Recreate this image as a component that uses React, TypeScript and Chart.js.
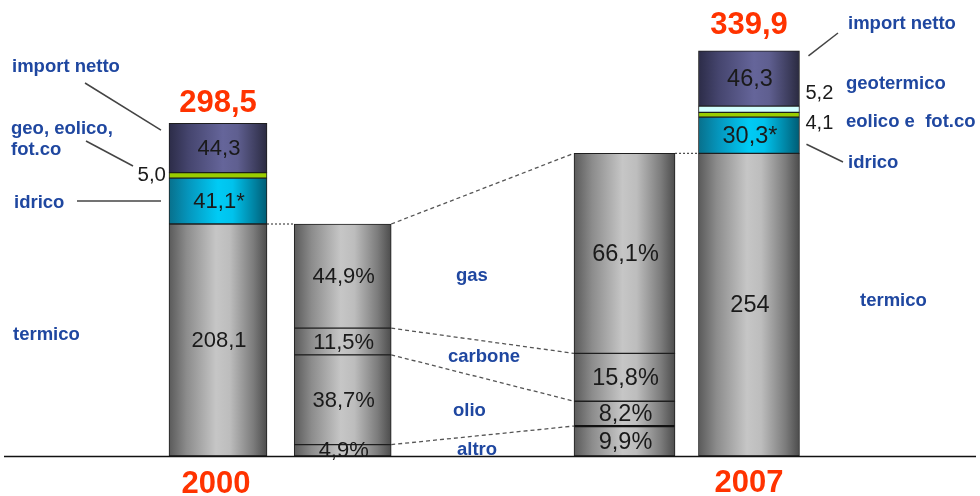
import React, { useEffect, useRef } from 'react';
import { Chart, registerables } from 'chart.js';

Chart.register(...registerables);

// ---------------- data ----------------
const YEARS = ['2000', '2007'];
const TERMICO = [208.1, 254];
const IDRICO = [41.1, 30.3];
const EOLICO_FOTCO = [5.0, 4.1]; // 2000: geo + eolico + fot.co together
const GEOTERMICO = [0, 5.2]; // 2000: included in the value above
const IMPORT_NETTO = [44.3, 46.3];
const MIX_LABELS = ['gas', 'carbone', 'olio', 'altro'];
const MIX_2000 = [44.9, 11.5, 38.7, 4.9]; // % of termico 2000
const MIX_2007 = [66.1, 15.8, 8.2, 9.9]; // % of termico 2007

// ---------------- layout / style ----------------
const W = 980;
const H = 496;
const BASE_Y = 456;
const X0 = 218;
const PX_X = 124.7;
const BAR_X = [0, 1, 3.26, 4.258];
const Y_PX = [1.1148, 1.1917]; // px per unit (the reference uses different scales per year)
const FONT = '"Liberation Sans", Arial, Helvetica, sans-serif';
const BLUE = '#1f47a0';
const RED = '#ff3300';
const INK = '#1a1a1a';
const VALUE_FONT: Record<string, string> = { y: `22px ${FONT}`, y2: `23.5px ${FONT}` };

const FILLS: Record<string, any> = {
  gray: [[0, '#5a5a5a'], [0.18, '#8c8c8c'], [0.48, '#c6c6c6'], [0.62, '#bdbdbd'], [0.86, '#7c7c7c'], [1, '#4c4c4c']],
  navy: [[0, '#2c2c48'], [0.2, '#45456e'], [0.55, '#65659a'], [0.7, '#5f5f90'], [0.9, '#3c3c5c'], [1, '#2a2a40']],
  cyan: [[0, '#08708c'], [0.2, '#0596bd'], [0.5, '#00cbf5'], [0.65, '#00c2ec'], [0.88, '#00809f'], [1, '#005c74']],
  green: '#9acd00',
  pale: '#d2ffff',
};
const FLAT: Record<string, string> = { gray: '#9a9a9a', navy: '#4a4a78', cyan: '#00aee0' };

const fmt = (v: number) => (Number.isInteger(v) ? String(v) : v.toFixed(1).replace('.', ','));
const fmt1 = (v: number) => v.toFixed(1).replace('.', ',');

function bg(slot: number, kind: string, thick: number) {
  return (c: any) => {
    const f = FILLS[kind];
    if (typeof f === 'string') return f;
    const chart = c.chart;
    const xs = chart.scales && chart.scales.x;
    if (!xs) return FLAT[kind];
    const cx = xs.getPixelForValue(BAR_X[slot]);
    if (!isFinite(cx)) return FLAT[kind];
    const g = chart.ctx.createLinearGradient(cx - thick / 2, 0, cx + thick / 2, 0);
    f.forEach((s: any) => g.addColorStop(s[0], s[1]));
    return g;
  };
}

function seg(key: string, value: number, slot: number, axis: string, kind: string, thick: number, text?: string) {
  return {
    key,
    text,
    data: [{ x: BAR_X[slot], y: value }],
    yAxisID: axis,
    backgroundColor: bg(slot, kind, thick),
    borderColor: '#1e1e1e',
    borderWidth: 1,
    borderSkipped: false,
    barThickness: thick,
  };
}

function buildDatasets() {
  const ds: any[] = [];
  // 2000 total
  ds.push(seg('t0', TERMICO[0], 0, 'y', 'gray', 98, fmt(TERMICO[0])));
  ds.push(seg('i0', IDRICO[0], 0, 'y', 'cyan', 98, fmt(IDRICO[0]) + '*'));
  ds.push(seg('e0', EOLICO_FOTCO[0], 0, 'y', 'green', 98));
  ds.push(seg('n0', IMPORT_NETTO[0], 0, 'y', 'navy', 98, fmt(IMPORT_NETTO[0])));
  // 2000 termico mix (bottom to top)
  for (let k = MIX_LABELS.length - 1; k >= 0; k--) {
    ds.push(seg('m0_' + k, (TERMICO[0] * MIX_2000[k]) / 100, 1, 'y', 'gray', 97, fmt1(MIX_2000[k]) + '%'));
  }
  // 2007 termico mix
  for (let k = MIX_LABELS.length - 1; k >= 0; k--) {
    ds.push(seg('m1_' + k, (TERMICO[1] * MIX_2007[k]) / 100, 2, 'y2', 'gray', 101, fmt1(MIX_2007[k]) + '%'));
  }
  // 2007 total
  ds.push(seg('t1', TERMICO[1], 3, 'y2', 'gray', 101, fmt(TERMICO[1])));
  ds.push(seg('i1', IDRICO[1], 3, 'y2', 'cyan', 101, fmt(IDRICO[1]) + '*'));
  ds.push(seg('e1', EOLICO_FOTCO[1], 3, 'y2', 'green', 101));
  ds.push(seg('g1', GEOTERMICO[1], 3, 'y2', 'pale', 101));
  ds.push(seg('n1', IMPORT_NETTO[1], 3, 'y2', 'navy', 101, fmt(IMPORT_NETTO[1])));
  return ds;
}

const annotations = {
  id: 'annotations',
  afterDatasetsDraw(chart: any) {
    const ctx = chart.ctx;
    const E: Record<string, any> = {};
    chart.data.datasets.forEach((d: any, i: number) => {
      E[d.key] = chart.getDatasetMeta(i).data[0];
    });
    const L = (e: any) => e.x - e.width / 2;
    const R = (e: any) => e.x + e.width / 2;
    const mid = (e: any) => (e.y + e.base) / 2;

    const line = (x1: number, y1: number, x2: number, y2: number, dash: number[], color: string, w: number) => {
      ctx.save();
      ctx.beginPath();
      ctx.setLineDash(dash);
      ctx.strokeStyle = color;
      ctx.lineWidth = w;
      ctx.moveTo(x1, y1);
      ctx.lineTo(x2, y2);
      ctx.stroke();
      ctx.restore();
    };
    const text = (s: string, x: number, y: number, font: string, color: string, align: string, base: string) => {
      ctx.save();
      ctx.font = font;
      ctx.fillStyle = color;
      ctx.textAlign = align;
      ctx.textBaseline = base;
      ctx.fillText(s, x, y);
      ctx.restore();
    };

    // baseline
    line(4, BASE_Y + 0.5, 976, BASE_Y + 0.5, [], '#111', 1.5);

    // heavier boundary olio / altro on the 2007 mix bar
    const alt = E['m1_3'];
    line(L(alt) + 1, alt.y, R(alt) - 1, alt.y, [], '#111', 2.2);

    // dotted links from termico tops to the mix bars
    line(R(E.t0), E.t0.y, L(E.m0_0), E.t0.y, [2, 2], '#222', 1);
    line(R(E.m1_0), E.t1.y, L(E.t1), E.t1.y, [2, 2], '#222', 1);

    // dashed connectors between the two mix bars
    const a = E.m0_0, b = E.m1_0;
    line(R(a), a.y, L(b), b.y, [4, 3], '#555', 1.3);
    for (let k = 0; k < MIX_LABELS.length - 1; k++) {
      const ea = E['m0_' + k], eb = E['m1_' + k];
      line(R(ea), ea.base, L(eb), eb.base, [4, 3], '#555', 1.3);
    }

    // leader lines
    line(85, 83, L(E.n0) - 8, E.n0.y + 7, [], '#444', 1.5);
    line(86, 141, 133, 166, [], '#444', 1.5);
    line(77, mid(E.i0), L(E.i0) - 8, mid(E.i0), [], '#444', 1.5);
    line(R(E.n1) + 9, E.n1.y + 5, 838, 33, [], '#444', 1.5);
    line(R(E.i1) + 7, mid(E.i1) + 9, 843, 162, [], '#444', 1.5);

    // values inside bars
    chart.data.datasets.forEach((d: any) => {
      if (!d.text) return;
      const e = E[d.key];
      text(d.text, e.x + 1, mid(e) + 1, VALUE_FONT[d.yAxisID], INK, 'center', 'middle');
    });

    // small outside values
    text(fmt1(EOLICO_FOTCO[0]), L(E.e0) - 3, 181, `20.5px ${FONT}`, INK, 'right', 'alphabetic');
    text(fmt1(GEOTERMICO[1]), R(E.g1) + 6, 99, `20px ${FONT}`, INK, 'left', 'alphabetic');
    text(fmt1(EOLICO_FOTCO[1]), R(E.e1) + 6, 128.5, `20px ${FONT}`, INK, 'left', 'alphabetic');

    // totals
    const tot0 = TERMICO[0] + IDRICO[0] + EOLICO_FOTCO[0] + GEOTERMICO[0] + IMPORT_NETTO[0];
    const tot1 = TERMICO[1] + IDRICO[1] + EOLICO_FOTCO[1] + GEOTERMICO[1] + IMPORT_NETTO[1];
    text(fmt1(tot0), E.n0.x, E.n0.y - 11, `bold 31px ${FONT}`, RED, 'center', 'alphabetic');
    text(fmt1(tot1), E.n1.x, E.n1.y - 16.5, `bold 31px ${FONT}`, RED, 'center', 'alphabetic');

    // years
    text(YEARS[0], E.t0.x - 2, 492.5, `bold 31px ${FONT}`, RED, 'center', 'alphabetic');
    text(YEARS[1], E.t1.x, 492, `bold 31px ${FONT}`, RED, 'center', 'alphabetic');

    // blue category labels
    const bf = `bold 18.5px ${FONT}`;
    text('import netto', 12, 72.3, bf, BLUE, 'left', 'alphabetic');
    text('geo, eolico,', 11, 133.5, bf, BLUE, 'left', 'alphabetic');
    text('fot.co', 11, 155, bf, BLUE, 'left', 'alphabetic');
    text('idrico', 14, 207.7, bf, BLUE, 'left', 'alphabetic');
    text('termico', 13, 339.5, bf, BLUE, 'left', 'alphabetic');
    text('import netto', 848, 28.5, bf, BLUE, 'left', 'alphabetic');
    text('geotermico', 846, 88.5, bf, BLUE, 'left', 'alphabetic');
    text('eolico e  fot.co', 846, 126.7, bf, BLUE, 'left', 'alphabetic');
    text('idrico', 848, 168.3, bf, BLUE, 'left', 'alphabetic');
    text('termico', 860, 306, bf, BLUE, 'left', 'alphabetic');
    const mixX = [456, 448, 453, 457];
    const mixY = [280.7, 362.3, 415.7, 454.5];
    MIX_LABELS.forEach((s, k) => text(s, mixX[k], mixY[k], bf, BLUE, 'left', 'alphabetic'));
  },
};

export default function App() {
  const ref = useRef<HTMLCanvasElement>(null);
  useEffect(() => {
    const chart = new Chart(ref.current as any, {
      type: 'bar',
      data: { datasets: buildDatasets() } as any,
      options: {
        animation: false,
        responsive: true,
        maintainAspectRatio: false,
        layout: { padding: { left: 0, right: 0, top: 0, bottom: H - BASE_Y } },
        plugins: { legend: { display: false }, tooltip: { enabled: false }, title: { display: false } },
        scales: {
          x: { type: 'linear', display: false, offset: false, stacked: true, min: -X0 / PX_X, max: (W - X0) / PX_X },
          y: { type: 'linear', display: false, stacked: true, min: 0, max: BASE_Y / Y_PX[0] },
          y2: { type: 'linear', display: false, stacked: true, min: 0, max: BASE_Y / Y_PX[1] },
        },
      } as any,
      plugins: [annotations as any],
    });
    return () => chart.destroy();
  }, []);
  return (
    <div style={{ position: 'fixed', left: 0, top: 0, width: W, height: H, background: '#fff' }}>
      <canvas ref={ref} />
    </div>
  );
}
